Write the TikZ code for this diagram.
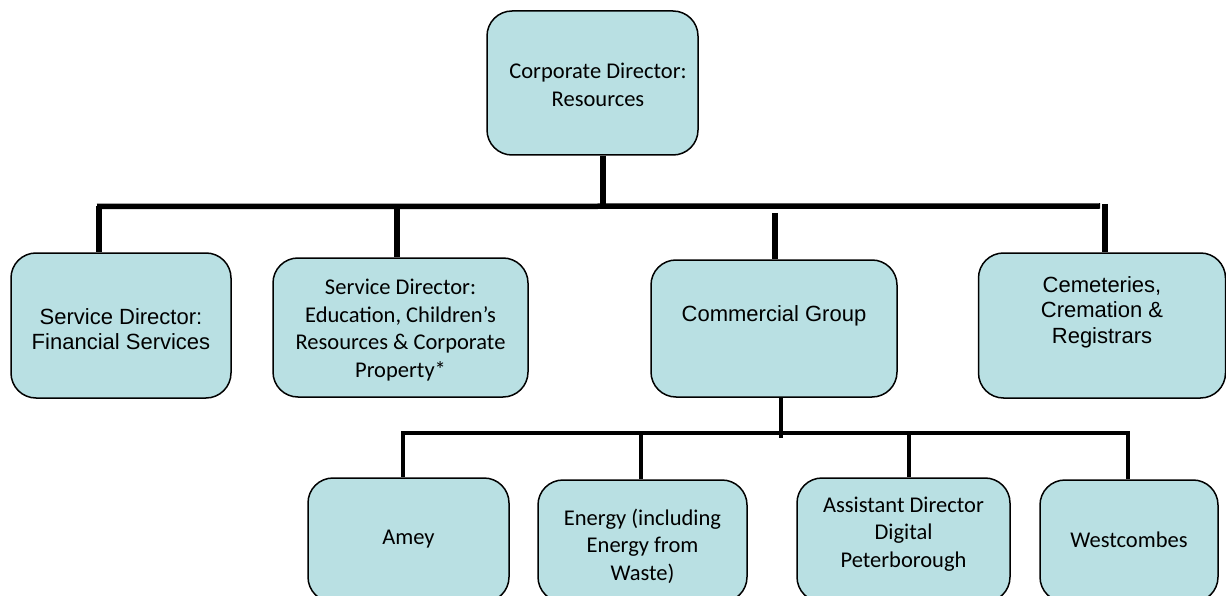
\documentclass[tikz,border=0pt]{standalone}
\usepackage{fontspec}
\newfontfamily\calfont{Carlito}
\newfontfamily\arifont{Liberation Sans}
\definecolor{boxfill}{RGB}{185,224,227}
\tikzset{
  box/.style={draw=black, line width=1.5pt, fill=boxfill, rounded corners=25pt, inner sep=0pt},
  bar/.style={line width=5.5pt},
  thinbar/.style={line width=4pt},
  cal/.style={font=\calfont\fontsize{22.5}{27.5}\selectfont, align=center, inner sep=0pt},
  ari/.style={font=\arifont\fontsize{22}{25.5}\selectfont, align=center, inner sep=0pt},
}
\begin{document}
\begin{tikzpicture}[x=1pt,y=-1pt]
\useasboundingbox (0,0) rectangle (1226,596);
% boxes
\node[box, minimum width=211pt, minimum height=144pt] (top) at (592.5,83) {};
\node[box, minimum width=220pt, minimum height=145pt] (fin) at (121,325.5) {};
\node[box, minimum width=255pt, minimum height=139pt] (edu) at (400.5,327.5) {};
\node[box, minimum width=246pt, minimum height=137pt] (com) at (774,328.5) {};
\node[box, minimum width=247pt, minimum height=145pt] (cem) at (1102,325.5) {};
\node[box, minimum width=201pt, minimum height=124pt] (amey) at (408.5,540) {};
\node[box, minimum width=209pt, minimum height=122pt] (energy) at (642.5,541) {};
\node[box, minimum width=213pt, minimum height=124pt] (adp) at (903.5,540) {};
\node[box, minimum width=178pt, minimum height=122pt] (west) at (1129,541) {};
% texts
\node[cal] (topT) at (598,85) {Corporate Director:\\Resources};
\node[ari] (finT) at (121,329) {Service Director:\\Financial Services};
\node[cal] (eduT) at (400.5,330) {Service Director:\\Education, Children’s\\Resources \& Corporate\\Property*};
\node[ari] (comT) at (774,316) {Commercial Group};
\node[ari] (cemT) at (1102,312) {Cemeteries,\\Cremation \&\\Registrars};
\node[cal] (ameyT) at (408.5,539) {Amey};
\node[cal] (energyT) at (642.5,546) {Energy (including\\Energy from\\Waste)};
\node[cal] (adpT) at (903.5,534) {Assistant Director\\Digital\\Peterborough};
\node[cal] (westT) at (1129,540) {Westcombes};
% upper connectors
\coordinate (j0) at (603,206);
\coordinate (barL) at (97,206.5);
\coordinate (barR) at (1100,206);
\coordinate (d1) at (99,206);
\coordinate (d2) at (397,206);
\coordinate (d3) at (775,213);
\coordinate (d4) at (1105,204);
\draw[bar] (top.south -| j0) -- (j0);
\draw[bar] (barL) -- (barR);
\draw[bar] (d1) -- (fin.north -| d1);
\draw[bar] (d2) -- (edu.north -| d2);
\draw[bar] (d3) -- (com.north -| d3);
\draw[bar] (d4) -- (cem.north -| d4);
% lower connectors
\coordinate (k0) at (781,438);
\coordinate (lbL) at (401,433);
\coordinate (lbR) at (1130,433);
\coordinate (e1) at (403,433);
\coordinate (e2) at (641,433);
\coordinate (e3) at (909,433);
\coordinate (e4) at (1128,433);
\draw[thinbar] (com.south -| k0) -- (k0);
\draw[thinbar] (lbL) -- (lbR);
\draw[thinbar] (e1) -- (amey.north -| e1);
\draw[thinbar] (e2) -- (energy.north -| e2);
\draw[thinbar] (e3) -- (adp.north -| e3);
\draw[thinbar] (e4) -- (west.north -| e4);
\end{tikzpicture}
\end{document}
